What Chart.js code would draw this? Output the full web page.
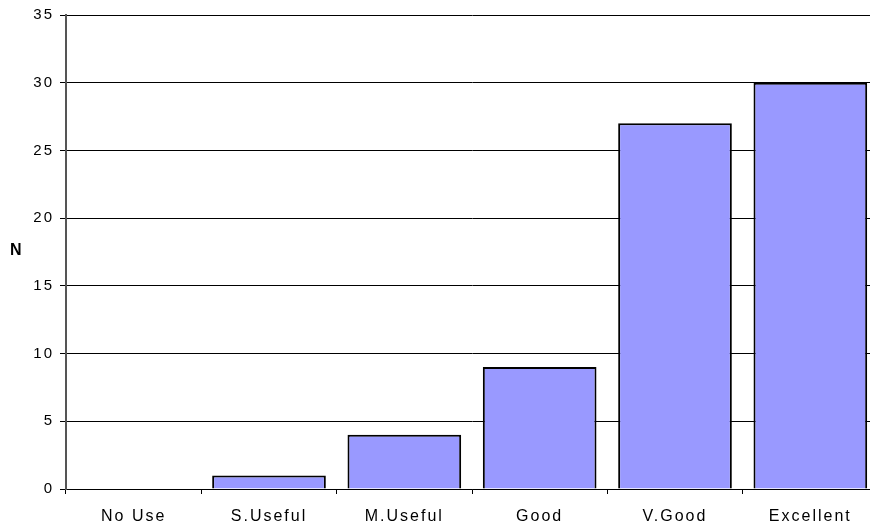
<!DOCTYPE html>
<html>
<head>
<meta charset="utf-8">
<script src="https://cdn.jsdelivr.net/npm/chart.js@4/dist/chart.umd.min.js"></script>
<style>
  html, body { margin: 0; padding: 0; background: #fff; overflow: hidden; }
  #wrap { position: relative; width: 870px; height: 526px; overflow: hidden; }
  #ylab { position: absolute; left: 10px; top: 241px; font: bold 16px "Liberation Sans", Arial, sans-serif; }
</style>
</head>
<body>
<div id="wrap">
  <canvas id="courbe" width="878" height="526"></canvas>
  <div id="ylab">N</div>
</div>
<script>
let categories = ['No Use', 'S.Useful', 'M.Useful', 'Good', 'V.Good', 'Excellent'];
let counts = [0, 1, 4, 9, 27, 30];
let yTicks = [0, 5, 10, 15, 20, 25, 30, 35];

let ctx = document.getElementById('courbe').getContext('2d');

// espacement des lettres comme sur l'original
const spacing = {
    id: 'spacing',
    beforeDraw: chart => { chart.ctx.letterSpacing = '2px'; }
};

let datas = {
    labels: categories,
    datasets: [{
        label: 'N',
        data: counts,
        backgroundColor: '#9999ff',
        borderColor: '#000000',
        borderWidth: 2,
        barPercentage: 0.84,
        categoryPercentage: 1
    }]
};

new Chart(ctx, {
    type: 'bar',
    data: datas,
    plugins: [spacing],
    options: {
        responsive: false,
        animation: false,
        layout: { padding: { top: 15, right: 0, left: 0, bottom: 0 } },
        plugins: {
            legend: { display: false },
            tooltip: { enabled: false }
        },
        scales: {
            x: {
                offset: true,
                grid: {
                    offset: true,
                    drawOnChartArea: false,
                    drawTicks: true,
                    tickLength: 5,
                    color: '#000'
                },
                border: { color: '#000', width: 1 },
                ticks: {
                    color: '#000',
                    padding: 13,
                    font: { family: '"Liberation Sans", Arial, sans-serif', size: 16 }
                },
                afterFit: s => { s.height = 37; }
            },
            y: {
                min: 0,
                max: 35,
                afterBuildTicks: s => { s.ticks = yTicks.map(v => ({ value: v })); },
                grid: {
                    color: '#000',
                    tickLength: 6,
                    lineWidth: 1
                },
                border: { color: '#555', width: 2 },
                ticks: {
                    color: '#000',
                    padding: 6,
                    font: { family: '"Liberation Sans", Arial, sans-serif', size: 15 }
                },
                afterFit: s => { s.width = 66; }
            }
        }
    }
});
</script>
</body>
</html>
